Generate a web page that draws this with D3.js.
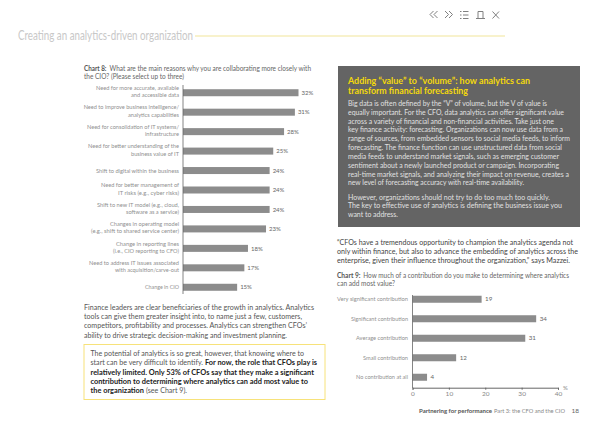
<!DOCTYPE html>
<html><head><meta charset="utf-8">
<script src="https://cdn.jsdelivr.net/npm/d3@7"></script>
<style>html,body{margin:0;padding:0;background:#fff}svg{display:block}text{font-family:Lato,"Open Sans",sans-serif}</style>
</head><body><svg id="c" width="600" height="424"></svg>
<script>
const labels8=[["Need for more accurate, available","and accessible data"],["Need to improve business intelligence/","analytics capabilities"],["Need for consolidation of IT systems/","infrastructure"],["Need for better understanding of the","business value of IT"],["Shift to digital within the business"],["Need for better management of","IT risks (e.g., cyber risks)"],["Shift to new IT model (e.g., cloud,","software as a service)"],["Changes in operating model","(e.g., shift to shared service center)"],["Change in reporting lines","(i.e., CIO reporting to CFO)"],["Need to address IT issues associated","with acquisition/carve-out"],["Change in CIO"]];
const values8=[32,31,28,25,24,24,24,23,18,17,15];
const labels9=["Very significant contribution","Significant contribution","Average contribution","Small contribution","No contribution at all"];
const values9=[19,34,31,12,4];
const ticks9=[0,10,20,30,40];
const boxLines=["Big data is often defined by the “V” of volume, but the V of value is","equally important. For the CFO, data analytics can offer significant value","across a variety of financial and non-financial activities. Take just one","key finance activity: forecasting. Organizations can now use data from a","range of sources, from embedded sensors to social media feeds, to inform","forecasting. The finance function can use unstructured data from social","media feeds to understand market signals, such as emerging customer","sentiment about a newly launched product or campaign. Incorporating","real-time market signals, and analyzing their impact on revenue, creates a","new level of forecasting accuracy with real-time availability."];
const boxLines2=["However, organizations should not try to do too much too quickly.","The key to effective use of analytics is defining the business issue you","want to address."];
const paraLines=["Finance leaders are clear beneficiaries of the growth in analytics. Analytics","tools can give them greater insight into, to name just a few, customers,","competitors, profitability and processes. Analytics can strengthen CFOs’","ability to drive strategic decision-making and investment planning."];
const quoteLines=["“CFOs have a tremendous opportunity to champion the analytics agenda not","only within finance, but also to advance the embedding of analytics across the","enterprise, given their influence throughout the organization,” says Mazzei."];
// right or left ends of the text lines as seen in the page layout
const label8Starts=[[96,131],[83.7,128],[87,145],[88,131],[96],[101,118],[97,126],[110,91],[116,113],[89,115],[145]];
const label9Starts=[337,351,356,363,356];
const boxEnds=[547,564,554,563,570,562,559,559,569,524];
const box2Ends=[550,562,398];
const paraEnds=[314,302,307,287];
const quoteEnds=[573,578,570];

const svg=d3.select("#c");
function T(x,y,s,size,fill,opts={}){
  const t=svg.append("text").attr("x",x).attr("y",y).attr("font-size",size).attr("fill",fill)
    .attr("text-anchor",opts.anchor||"start").attr("font-weight",opts.weight||400).text(s);
  if(opts.len) t.attr("textLength",opts.len).attr("lengthAdjust","spacingAndGlyphs");
  return t;
}
// header
T(18,40,"Creating an analytics-driven organization",12.500,"#c8c8c8",{len:175});
svg.append("line").attr("x1",195).attr("x2",505).attr("y1",36).attr("y2",36).attr("stroke","#f8f2cc").attr("stroke-width",2);
const ic=svg.append("g").attr("fill","none").attr("stroke","#808080").attr("stroke-width",1);
ic.append("path").attr("d","M433.500 11l-3.500 3.500 3.500 3.500M437.500 11l-3.500 3.500 3.500 3.500M445 11l3.500 3.500-3.500 3.500M449 11l3.500 3.500-3.500 3.500");
ic.append("path").attr("d","M460 11.500h1.500M460 15h1.500M460 18.500h1.500M463 11.500h5.500M463 15h5.500M463 18.500h5.500");
ic.append("path").attr("d","M476 18.500h9M478 18.500v-7h5v7");
ic.append("path").attr("d","M492.500 11.500l6.500 7M499 11.500l-6.500 7");
// chart 8 title
T(84,71,"Chart 8:",7.200,"#555",{weight:700,len:22.500});
T(109.500,71,"What are the main reasons why you are collaborating more closely with",7.200,"#666",{len:201.500});
T(84,79,"the CIO? (Please select up to three)",7.200,"#666",{len:100});
// chart 8
const x8=d3.scaleLinear().domain([0,32]).range([183,298.500]);
const y8=d3.scaleBand().domain(d3.range(values8.length)).range([83,297]).paddingInner(0.64).paddingOuter(0.32);
svg.append("g").selectAll("rect").data(values8).join("rect")
 .attr("x",x8(0)).attr("y",(d,i)=>y8(i)).attr("width",d=>x8(d)-x8(0)).attr("height",y8.bandwidth()).attr("fill","#8c8c8c");
svg.append("line").attr("x1",183).attr("x2",183).attr("y1",85).attr("y2",294).attr("stroke","#666").attr("stroke-width",0.8);
svg.append("g").selectAll("text").data(values8).join("text")
 .attr("x",d=>x8(d)+3).attr("y",(d,i)=>y8(i)+y8.bandwidth()/2+2.200).attr("font-size",6).attr("fill","#666").text(d=>d+"%");
labels8.forEach((l,i)=>{
  const c=y8(i)+y8.bandwidth()/2;
  l.forEach((s,j)=>{
    const base=l.length==2?(j==0?c-2.800:c+4.500):c+2.200;
    T(179,base,s,6.200,"#8f8f8f",{anchor:"end",len:179-label8Starts[i][j]});
  });
});
// paragraph
paraLines.forEach((s,i)=>T(84,309.500+i*9.350,s,7.700,"#555",{len:paraEnds[i]-84}));
// yellow box
svg.append("rect").attr("x",84).attr("y",344.500).attr("width",241).attr("height",55).attr("fill","#fff").attr("stroke","#f7e27a").attr("stroke-width",1);
T(90.500,356,"The potential of analytics is so great, however, that knowing where to",7.700,"#555",{len:213.500});
T(90.500,365.300,"start can be very difficult to identify.",7.700,"#555",{len:112.500});
T(205,365.300,"For now, the role that CFOs play is",7.700,"#222",{weight:700,len:112});
T(90.500,374.600,"relatively limited. Only 53% of CFOs say that they make a significant",7.700,"#222",{weight:700,len:223.500});
T(90.500,384,"contribution to determining where analytics can add most value to",7.700,"#222",{weight:700,len:217.500});
T(90.500,393.300,"the organization",7.700,"#222",{weight:700,len:53.500});
T(146,393.300,"(see Chart 9).",7.700,"#555",{len:41});
// grey box
svg.append("rect").attr("x",338).attr("y",66).attr("width",242).attr("height",161).attr("fill","#646464");
T(348,83.500,"Adding “value” to “volume”: how analytics can",9,"#f5d90a",{weight:700,len:182});
T(348,93.500,"transform financial forecasting",9,"#f5d90a",{weight:700,len:120});
boxLines.forEach((s,i)=>T(348,106+i*8.830,s,7.600,"#e0e0e0",{len:boxEnds[i]-348}));
boxLines2.forEach((s,i)=>T(348,199.500+i*8.900,s,7.600,"#e0e0e0",{len:box2Ends[i]-348}));
// quote
quoteLines.forEach((s,i)=>T(337,244.500+i*9.300,s,7.500,"#444",{len:quoteEnds[i]-337}));
// chart 9 title
T(337,278,"Chart 9:",7,"#555",{weight:700,len:23.500});
T(363.300,278,"How much of a contribution do you make to determining where analytics",7,"#666",{len:205.700});
T(337,286,"can add most value?",7,"#666",{len:58});
// chart 9
const x9=d3.scaleLinear().domain([0,40]).range([412.500,558]);
const y9=d3.scaleBand().domain(d3.range(values9.length)).range([289.500,387]).paddingInner(0.64).paddingOuter(0.32);
svg.append("g").selectAll("rect").data(values9).join("rect")
 .attr("x",x9(0)).attr("y",(d,i)=>y9(i)).attr("width",d=>x9(d)-x9(0)).attr("height",y9.bandwidth()).attr("fill","#8c8c8c");
svg.append("line").attr("x1",412.500).attr("x2",412.500).attr("y1",295).attr("y2",388).attr("stroke","#666").attr("stroke-width",0.8);
const ax=svg.append("g").attr("transform","translate(0,387.700)").call(d3.axisBottom(x9).tickValues(ticks9).tickSize(2).tickPadding(2));
ax.select(".domain").attr("stroke","#666");
ax.selectAll("line").attr("stroke","#666");
ax.selectAll("text").attr("font-size",6.500).attr("fill","#888").style("font-family","Lato");
T(565.500,390,"%",6,"#888",{anchor:"middle"});
svg.append("g").selectAll("text").data(values9).join("text")
 .attr("x",d=>x9(d)+3.500).attr("y",(d,i)=>y9(i)+y9.bandwidth()/2+2.200).attr("font-size",6.200).attr("fill","#666").text(d=>d);
labels9.forEach((s,i)=>T(408,y9(i)+y9.bandwidth()/2+2.200,s,6.200,"#8f8f8f",{anchor:"end",len:408-label9Starts[i]}));
// footer
T(419,413,"Partnering for performance",6.200,"#555",{weight:700,len:73});
T(494,413,"Part 3: the CFO and the CIO",5.800,"#888",{len:71});
T(579,413,"18",6.500,"#666",{anchor:"end"});
</script></body></html>
